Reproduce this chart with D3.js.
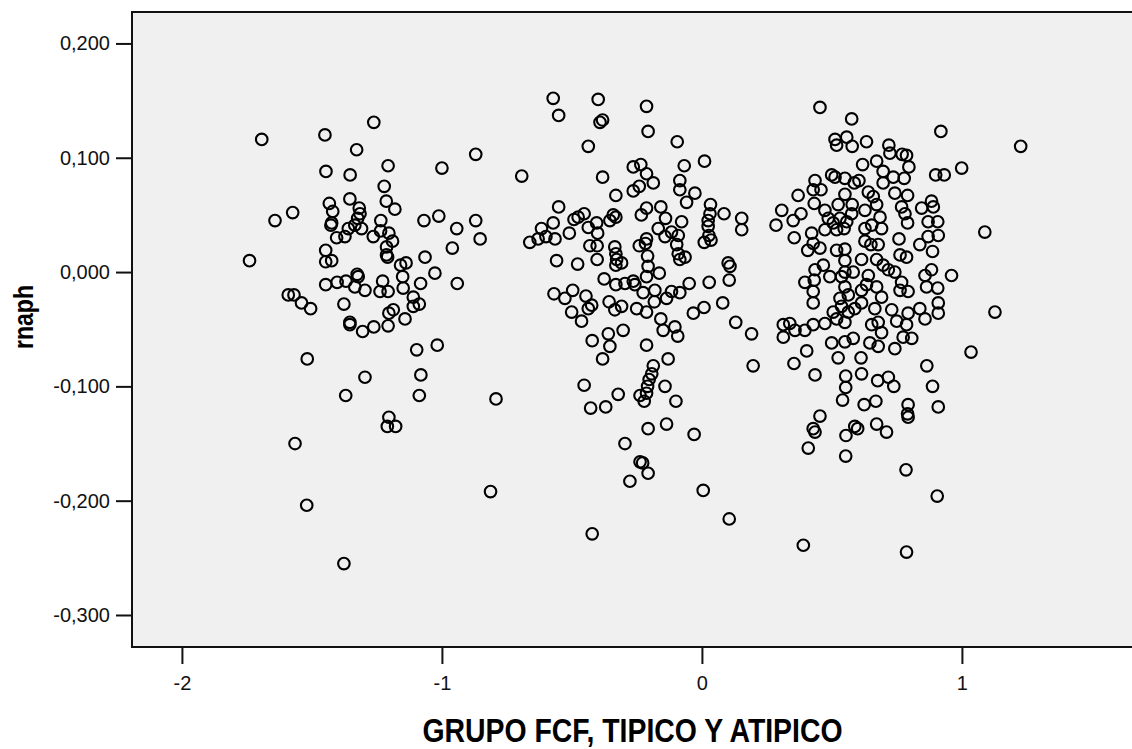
<!DOCTYPE html>
<html>
<head>
<meta charset="utf-8">
<script src="https://cdn.jsdelivr.net/npm/d3@7"></script>
<style>
  body { margin: 0; background: #ffffff; }
  text { font-family: "Liberation Sans", Arial, sans-serif; }
</style>
</head>
<body>
<div id="chart"></div>
<script>
// cases: [GRUPO FCF, rnaph]
var groupLeft = [
  [-1.262,0.131],[-1.693,0.116],[-1.450,0.120],[-1.328,0.107],[-0.870,0.103],[-1.207,0.093],[-1.000,0.091],[-1.446,0.088],[-1.353,0.085],[-0.693,0.084],
  [-1.222,0.075],[-1.433,0.060],[-1.354,0.064],[-1.214,0.062],[-1.181,0.055],[-1.318,0.056],[-1.315,0.051],[-1.420,0.053],[-1.642,0.045],[-1.574,0.052],
  [-1.069,0.045],[-1.012,0.049],[-0.870,0.045],[-0.943,0.038],[-0.853,0.029],[-0.960,0.021],[-1.424,0.043],[-1.427,0.041],[-1.324,0.047],[-1.335,0.041],
  [-1.360,0.038],[-1.309,0.038],[-1.235,0.045],[-1.405,0.030],[-1.373,0.031],[-1.264,0.031],[-1.236,0.036],[-1.204,0.034],[-1.190,0.027],[-1.213,0.022],
  [-1.213,0.015],[-1.209,0.013],[-1.447,0.019],[-1.447,0.009],[-1.424,0.010],[-1.740,0.010],[-1.065,0.013],[-1.159,0.006],[-1.138,0.008],[-1.151,-0.004],
  [-1.027,-0.001],[-0.941,-0.010],[-1.447,-0.011],[-1.403,-0.009],[-1.369,-0.008],[-1.326,-0.002],[-1.322,-0.004],[-1.335,-0.013],[-1.296,-0.016],[-1.228,-0.008],
  [-1.238,-0.017],[-1.207,-0.017],[-1.149,-0.014],[-1.082,-0.010],[-1.110,-0.022],[-1.087,-0.028],[-1.110,-0.030],[-1.591,-0.020],[-1.569,-0.020],[-1.540,-0.027],
  [-1.505,-0.032],[-1.377,-0.028],[-1.187,-0.033],[-1.204,-0.036],[-1.142,-0.041],[-1.354,-0.044],[-1.354,-0.046],[-1.305,-0.052],[-1.262,-0.048],[-1.207,-0.047],
  [-1.097,-0.068],[-1.018,-0.064],[-1.518,-0.076],[-1.296,-0.092],[-1.081,-0.090],[-1.370,-0.108],[-1.087,-0.108],[-0.792,-0.111],[-1.204,-0.127],[-1.210,-0.135],
  [-1.178,-0.135],[-1.565,-0.150],[-0.813,-0.192],[-1.520,-0.204],[-1.377,-0.255]
]

var groupMid = [
  [-0.572,0.152],[-0.399,0.151],[-0.213,0.145],[-0.551,0.137],[-0.392,0.131],[-0.382,0.133],[-0.207,0.123],[-0.095,0.114],[-0.437,0.110],[0.010,0.097],
  [-0.264,0.092],[-0.235,0.094],[-0.068,0.093],[-0.213,0.086],[-0.382,0.083],[-0.187,0.078],[-0.085,0.080],[-0.241,0.075],[-0.264,0.071],[-0.085,0.072],
  [-0.027,0.069],[-0.331,0.067],[-0.059,0.061],[-0.551,0.057],[0.033,0.059],[0.085,0.051],[0.153,0.047],[0.153,0.037],[-0.158,0.057],[-0.213,0.056],
  [-0.233,0.050],[-0.140,0.047],[-0.078,0.044],[0.031,0.051],[0.024,0.045],[0.024,0.040],[0.027,0.032],[0.009,0.026],[0.035,0.028],[-0.453,0.051],
  [-0.476,0.048],[-0.492,0.046],[-0.405,0.043],[-0.437,0.039],[-0.401,0.034],[-0.341,0.050],[-0.331,0.048],[-0.354,0.045],[-0.572,0.043],[-0.617,0.038],
  [-0.510,0.034],[-0.565,0.029],[-0.600,0.031],[-0.630,0.029],[-0.662,0.026],[-0.431,0.023],[-0.403,0.023],[-0.559,0.010],[-0.478,0.007],[-0.403,0.011],
  [-0.335,0.022],[-0.331,0.016],[-0.328,0.011],[-0.309,0.008],[-0.331,0.006],[-0.168,0.038],[-0.142,0.031],[-0.117,0.035],[-0.091,0.032],[-0.241,0.023],
  [-0.213,0.029],[-0.217,0.025],[-0.209,0.014],[-0.207,0.005],[-0.097,0.024],[-0.091,0.016],[-0.065,0.013],[-0.085,0.011],[0.101,0.008],[0.108,0.005],
  [0.105,-0.007],[-0.376,-0.006],[-0.331,-0.011],[-0.296,-0.010],[-0.264,-0.008],[-0.258,-0.011],[-0.213,-0.004],[-0.164,-0.001],[-0.181,-0.016],[-0.226,-0.018],
  [-0.117,-0.017],[-0.085,-0.018],[-0.049,-0.010],[0.028,-0.009],[-0.569,-0.019],[-0.497,-0.016],[-0.527,-0.023],[-0.446,-0.021],[-0.424,-0.029],[-0.437,-0.032],
  [-0.501,-0.035],[-0.463,-0.043],[-0.357,-0.026],[-0.335,-0.033],[-0.309,-0.030],[-0.251,-0.032],[-0.213,-0.035],[-0.183,-0.026],[-0.136,-0.023],[-0.033,-0.036],
  [0.008,-0.031],[0.080,-0.027],[-0.158,-0.041],[-0.149,-0.051],[-0.104,-0.048],[-0.093,-0.056],[-0.360,-0.054],[-0.303,-0.051],[-0.422,-0.060],[-0.354,-0.065],
  [-0.382,-0.076],[-0.213,-0.064],[-0.130,-0.076],[0.130,-0.044],[0.191,-0.054],[0.197,-0.082],[-0.187,-0.082],[-0.193,-0.089],[-0.203,-0.094],[-0.209,-0.100],
  [-0.213,-0.106],[-0.238,-0.108],[-0.222,-0.113],[-0.142,-0.100],[-0.100,-0.113],[-0.453,-0.099],[-0.322,-0.107],[-0.428,-0.119],[-0.370,-0.118],[-0.207,-0.137],
  [-0.136,-0.133],[-0.030,-0.142],[-0.296,-0.150],[-0.238,-0.166],[-0.228,-0.167],[-0.207,-0.176],[-0.277,-0.183],[0.005,-0.191],[0.105,-0.216],[-0.422,-0.229]
]

var groupRight = [
  [0.454,0.144],[0.576,0.134],[0.919,0.123],[1.226,0.110],[0.512,0.116],[0.557,0.118],[0.518,0.111],[0.578,0.110],[0.633,0.114],[0.719,0.111],
  [0.723,0.104],[0.770,0.103],[0.787,0.102],[0.796,0.092],[0.999,0.091],[0.618,0.094],[0.672,0.097],[0.697,0.088],[0.899,0.085],[0.932,0.085],
  [0.499,0.085],[0.512,0.083],[0.550,0.082],[0.586,0.078],[0.604,0.080],[0.435,0.080],[0.428,0.072],[0.458,0.072],[0.697,0.078],[0.736,0.083],
  [0.778,0.082],[0.550,0.068],[0.640,0.070],[0.659,0.066],[0.742,0.069],[0.791,0.067],[0.370,0.067],[0.307,0.054],[0.351,0.045],[0.381,0.051],
  [0.285,0.041],[0.432,0.060],[0.473,0.054],[0.524,0.059],[0.578,0.059],[0.627,0.054],[0.672,0.059],[0.685,0.048],[0.768,0.057],[0.781,0.051],
  [0.791,0.043],[0.845,0.056],[0.883,0.062],[0.890,0.057],[0.870,0.044],[0.907,0.044],[0.909,0.032],[0.870,0.031],[0.838,0.024],[0.887,0.018],
  [1.088,0.035],[0.486,0.047],[0.505,0.043],[0.531,0.047],[0.557,0.044],[0.518,0.037],[0.473,0.037],[0.547,0.038],[0.576,0.051],[0.627,0.038],
  [0.653,0.041],[0.691,0.038],[0.422,0.034],[0.355,0.030],[0.428,0.025],[0.407,0.019],[0.454,0.021],[0.518,0.019],[0.550,0.020],[0.627,0.027],
  [0.650,0.024],[0.678,0.024],[0.758,0.029],[0.762,0.015],[0.787,0.013],[0.614,0.011],[0.550,0.010],[0.467,0.006],[0.435,0.002],[0.492,-0.004],
  [0.550,0.000],[0.582,0.000],[0.640,-0.003],[0.672,0.011],[0.697,0.006],[0.717,0.002],[0.742,0.000],[0.396,-0.009],[0.432,-0.007],[0.428,-0.017],
  [0.428,-0.027],[0.537,-0.004],[0.550,-0.013],[0.531,-0.023],[0.563,-0.020],[0.614,-0.016],[0.633,-0.011],[0.672,-0.013],[0.691,-0.022],[0.768,-0.009],
  [0.762,-0.016],[0.793,-0.017],[0.858,-0.003],[0.883,0.002],[0.960,-0.003],[0.864,-0.013],[0.907,-0.014],[0.909,-0.027],[0.909,-0.036],[0.838,-0.032],
  [0.858,-0.041],[1.127,-0.035],[0.730,-0.033],[0.793,-0.036],[0.787,-0.046],[0.749,-0.043],[0.807,-0.058],[0.774,-0.057],[0.614,-0.027],[0.588,-0.032],
  [0.563,-0.035],[0.537,-0.030],[0.505,-0.035],[0.518,-0.041],[0.550,-0.044],[0.665,-0.032],[0.653,-0.046],[0.678,-0.044],[0.691,-0.053],[0.313,-0.046],
  [0.338,-0.045],[0.358,-0.051],[0.313,-0.057],[0.396,-0.051],[0.428,-0.046],[0.473,-0.045],[0.499,-0.062],[0.550,-0.061],[0.582,-0.058],[0.646,-0.062],
  [0.678,-0.065],[0.742,-0.067],[0.403,-0.069],[1.035,-0.070],[0.354,-0.080],[0.524,-0.075],[0.612,-0.075],[0.435,-0.090],[0.553,-0.091],[0.614,-0.089],
  [0.553,-0.101],[0.541,-0.112],[0.676,-0.095],[0.717,-0.092],[0.738,-0.100],[0.865,-0.082],[0.887,-0.100],[0.909,-0.118],[0.624,-0.116],[0.669,-0.113],
  [0.793,-0.116],[0.791,-0.124],[0.793,-0.127],[0.454,-0.126],[0.428,-0.137],[0.435,-0.140],[0.554,-0.143],[0.588,-0.135],[0.599,-0.137],[0.672,-0.133],
  [0.710,-0.140],[0.409,-0.154],[0.553,-0.161],[0.785,-0.173],[0.905,-0.196],[0.390,-0.239],[0.787,-0.245]
]

var xTicks = [-2, -1, 0, 1]
var yTicks = [0.2, 0.1, 0, -0.1, -0.2, -0.3]
var xTitle = "GRUPO FCF, TIPICO Y ATIPICO"
var yTitle = "rnaph"

;(function() {
  var fullWidth = 1132, fullHeight = 749
  var margin = { top: 12, left: 132, right: -1, bottom: 102 },
    width = fullWidth - margin.left - margin.right,
    height = fullHeight - margin.top - margin.bottom

  var svg = d3.select("#chart")
    .append("svg")
    .attr("width", fullWidth)
    .attr("height", fullHeight)
    .style("display", "block")
    .append("g")
    .attr("transform", "translate(" + margin.left + "," + margin.top + ")")

  var xPositionScale = d3.scaleLinear()
    .domain([-2.192, 1.658])
    .range([0, width])

  var yPositionScale = d3.scaleLinear()
    .domain([-0.328, 0.2275])
    .range([height, 0])

  // SPSS style: comma as decimal mark, plain hyphen for minus
  var es = d3.formatLocale({ decimal: ",", thousands: ".", grouping: [3], currency: ["", " €"], minus: "-" })
  var yFormat = es.format(".3f")
  var xFormat = es.format("d")

  svg.append("rect")
    .attr("width", width)
    .attr("height", height)
    .attr("fill", "#f0f0f0")
    .attr("stroke", "#111111")
    .attr("stroke-width", 2)

  var allPoints = groupLeft.concat(groupMid, groupRight)

  svg.selectAll(".case")
    .data(allPoints)
    .enter().append("circle")
    .attr("class", "case")
    .attr("cx", function(d) { return xPositionScale(d[0]) })
    .attr("cy", function(d) { return yPositionScale(d[1]) })
    .attr("r", 5.8)
    .attr("fill", "none")
    .attr("stroke", "#000000")
    .attr("stroke-width", 2.1)

  var xAxis = d3.axisBottom(xPositionScale)
    .tickValues(xTicks)
    .tickSize(17)
    .tickPadding(12)
    .tickFormat(xFormat)
  svg.append("g")
    .attr("class", "axis x-axis")
    .attr("transform", "translate(0," + height + ")")
    .call(xAxis)

  var yAxis = d3.axisLeft(yPositionScale)
    .tickValues(yTicks)
    .tickSize(16)
    .tickPadding(6)
    .tickFormat(yFormat)
  svg.append("g")
    .attr("class", "axis y-axis")
    .call(yAxis)

  svg.selectAll(".axis .domain").remove()
  svg.selectAll(".axis line")
    .attr("stroke", "#111111")
    .attr("stroke-width", 2)
  svg.selectAll(".axis text")
    .attr("fill", "#111111")
    .style("font-size", "20px")
    .style("font-family", "'Liberation Sans', Arial, sans-serif")

  svg.append("text")
    .attr("class", "x-title")
    .attr("x", width / 2)
    .attr("y", height + 95)
    .attr("text-anchor", "middle")
    .attr("textLength", 420)
    .attr("lengthAdjust", "spacingAndGlyphs")
    .style("font-size", "33px")
    .style("font-weight", "bold")
    .text(xTitle)

  svg.append("text")
    .attr("class", "y-title")
    .attr("transform", "translate(" + (33 - margin.left) + "," + (317 - margin.top) + ") rotate(-90)")
    .attr("text-anchor", "middle")
    .attr("textLength", 64)
    .attr("lengthAdjust", "spacingAndGlyphs")
    .style("font-size", "27px")
    .style("font-weight", "bold")
    .text(yTitle)
})();
</script>
</body>
</html>
